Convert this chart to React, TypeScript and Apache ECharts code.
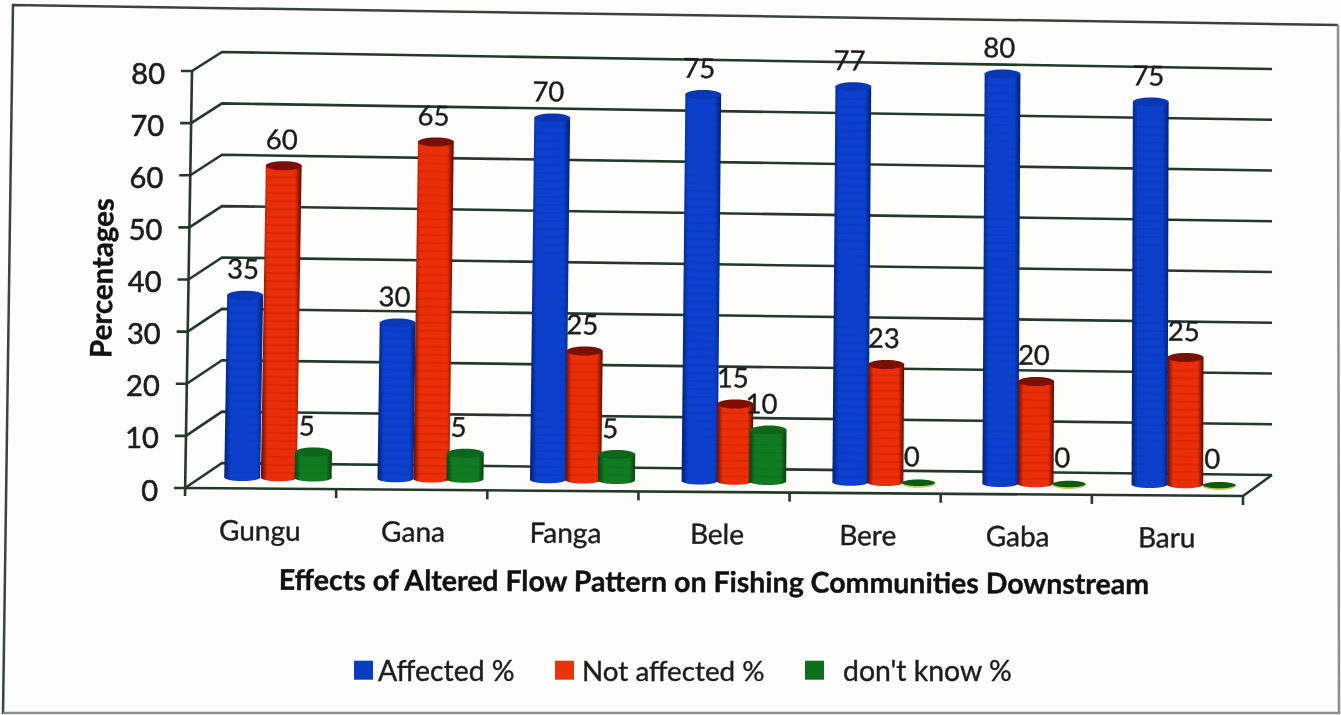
import React, { useEffect, useRef } from "react";
import * as echarts from "echarts";

const categories = ["Gungu", "Gana", "Fanga", "Bele", "Bere", "Gaba", "Baru"];
const affected = [35, 30, 70, 75, 77, 80, 75];
const notAffected = [60, 65, 25, 15, 23, 20, 25];
const dontKnow = [5, 5, 5, 10, 0, 0, 0];
const yTicks = [0, 10, 20, 30, 40, 50, 60, 70, 80];
const seriesNames = ["Affected %", "Not affected %", "don't know %"];
const xTitle = "Effects of Altered Flow Pattern on Fishing Communities Downstream";
const yTitle = "Percentages";

const FONT = "Lato, Carlito, sans-serif";
const INK = "#1a1e1b";
const AXIS = "#24392a";
const L = 185, R = 1243, T = 71, B = 488;
const DEPTH = 11;
const heavy = { stroke: INK, lineWidth: 0.6 };

// The reference is a photographed page: a slight keystone bends the chart plane.
function warp(px: number, py: number): [number, number] {
  const up = B - py;
  const slope = 0.0076 + up * 0.0000221;
  const lean = up * 0.0168 * (1 - ((px - L) / (R - L)) * 0.9);
  return [px + lean, py + (px - L) * slope];
}
// ...and a slight sideways bulge towards the middle of the page.
function bow(px: number, amount: number): number {
  const t = (px - L) / (R - L);
  return px + amount * 4 * t * (1 - t);
}

const palettes = [
  { edge: "#041f70", mid: "#0a40cc", top: "#0a38b4", stripe: "#03195c" },
  { edge: "#5c0a00", mid: "#ec2e08", top: "#7a0f04", stripe: "#7a1200" },
  { edge: "#0a4010", mid: "#0f7a20", top: "#0d661a", stripe: "#083c0e" },
];
const offsets = [-19.5 / 151, 17 / 151, 51.5 / 151];
const halfWidths = [18, 18, 18.5];
const labelShift = [-1.5, -1.5, -7];
const bows = [5, 3.5, 2];

function barRenderer(idx: number) {
  const pal = palettes[idx];
  return (_p: any, api: any) => {
    const cat = api.value(0);
    const v = api.value(1);
    const band = api.size([1, 0])[0];
    const [c, y1] = api.coord([cat, v]);
    const [, y0] = api.coord([cat, 0]);
    const cx = bow(c + band * offsets[idx], bows[idx]);
    const hw = halfWidths[idx];
    const bot = y0 - DEPTH;
    const top = y1 - DEPTH;
    const bl = warp(cx - hw, bot), br = warp(cx + hw, bot);
    const tl = warp(cx - hw, top), tr = warp(cx + hw, top);
    const bc = warp(cx, bot), tc = warp(cx, top);
    if (v === 0) {
      return {
        type: "group",
        children: [
          { type: "ellipse", shape: { cx: bc[0], cy: bc[1] + 1, rx: 17, ry: 4 }, style: { fill: "#c3cc5a" } },
          { type: "ellipse", shape: { cx: bc[0], cy: bc[1], rx: 16.5, ry: 3.2 }, style: { fill: "#0c5a14" } },
        ],
      };
    }
    const fill = new echarts.graphic.LinearGradient(0, 0, 1, 0, [
      { offset: 0, color: pal.edge },
      { offset: 0.16, color: pal.mid },
      { offset: 0.84, color: pal.mid },
      { offset: 1, color: pal.edge },
    ]);
    const stripes: any[] = [];
    for (let y = bot - 5; y > top + 6; y -= 8) {
      const a = warp(cx - hw + 1, y), b = warp(cx + hw - 1, y);
      stripes.push({
        type: "line",
        shape: { x1: a[0], y1: a[1], x2: b[0], y2: b[1] },
        style: { stroke: pal.stripe, lineWidth: 2, opacity: idx === 1 ? 0.16 : 0.06 },
      });
    }
    return {
      type: "group",
      children: [
        { type: "ellipse", shape: { cx: bc[0], cy: bc[1], rx: hw, ry: 3.5 }, style: { fill } },
        { type: "polygon", shape: { points: [bl, br, tr, tl] }, style: { fill } },
        ...stripes,
        { type: "ellipse", shape: { cx: tc[0], cy: tc[1], rx: hw, ry: 4.5 }, style: { fill: pal.top } },
      ],
    };
  };
}

function labelRenderer(_p: any, api: any) {
  const cat = api.value(0);
  const v = api.value(1);
  const idx = api.value(2);
  const band = api.size([1, 0])[0];
  const [c, y1] = api.coord([cat, v]);
  const cx = bow(c + band * offsets[idx], 2.5);
  const p = warp(cx, y1 - DEPTH);
  return {
    type: "text",
    x: p[0] + labelShift[idx],
    y: p[1] - 27,
    rotation: -0.008,
    style: { text: String(v), fill: INK, ...heavy, lineWidth: 0.4, fontSize: 27.5, fontFamily: FONT, align: "center", verticalAlign: "middle" },
  };
}

function frameRenderer(_p: any, api: any) {
  const v = api.value(0);
  const [, py] = api.coord([0, v]);
  const f = (B - py) / (B - T);
  const front = warp(L, py);
  const backL: [number, number] = [222, 463 - 411 * f];
  const backR: [number, number] = [1272, 475 - 406 * f];
  const line = { stroke: AXIS, lineWidth: 2.6, fill: "none" };
  const children: any[] = [
    { type: "polyline", shape: { points: [[front[0] - 11, front[1]], front, backL, backR] }, style: line },
    {
      type: "text",
      x: front[0] - 27,
      y: front[1] + 1,
      style: { text: String(v), fill: INK, ...heavy, fontSize: 29, fontFamily: FONT, align: "right", verticalAlign: "middle" },
    },
  ];
  if (v === 0) {
    const fr = warp(R, B);
    children.push({ type: "polyline", shape: { points: [front, fr, backR] }, style: line });
    const top = warp(L, T);
    children.push({ type: "line", shape: { x1: front[0], y1: front[1] + 8, x2: top[0], y2: top[1] }, style: line });
  }
  return { type: "group", children };
}

function categoryRenderer(_p: any, api: any) {
  const i = api.value(0);
  const band = api.size([1, 0])[0];
  const [c] = api.coord([i, 0]);
  const lower = warp(c + band / 2, B);
  const label = warp(bow(c, 5), B);
  return {
    type: "group",
    children: [
      { type: "line", shape: { x1: lower[0], y1: lower[1], x2: lower[0], y2: lower[1] + 9 }, style: { stroke: AXIS, lineWidth: 2.6 } },
      {
        type: "text",
        x: label[0] - 2,
        y: label[1] + 41,
        rotation: -0.0075,
        style: { text: categories[i], fill: INK, ...heavy, lineWidth: 0.4, fontSize: 28, fontFamily: FONT, align: "center", verticalAlign: "middle" },
      },
    ],
  };
}

// One legend box per series, because the reference's gaps between swatch and text differ.
const legendLefts = [349, 550, 800];
const legendPads = [0, 3, 14];
const legendSizes = [28.4, 27.8, 28.4];

export default function App() {
  const ref = useRef<HTMLDivElement>(null);
  useEffect(() => {
    document.body.style.margin = "0";
    const chart = echarts.init(ref.current!, undefined, { renderer: "svg" });
    const rows = (arr: number[]) => arr.map((v, i) => [i, v]);
    const labelRows = [affected, notAffected, dontKnow].flatMap((arr, s) => arr.map((v, i) => [i, v, s]));
    const xAxis = { type: "category", data: categories, show: false };
    const yAxis = { type: "value", min: 0, max: 80, interval: 10, show: false };
    const edge = { stroke: "#39453b", lineWidth: 2.5, fill: "none" };
    chart.setOption({
      animation: false,
      backgroundColor: "#fdfdfc",
      grid: { left: L, top: T, width: R - L, height: B - T },
      xAxis,
      yAxis,
      legend: seriesNames.map((name, i) => ({
        data: [name],
        left: legendLefts[i],
        top: 651,
        itemWidth: 19,
        itemHeight: 19,
        icon: "rect",
        textStyle: {
          fontSize: legendSizes[i],
          fontFamily: FONT,
          color: INK,
          textBorderColor: INK,
          textBorderWidth: 0.4,
          padding: [0, 0, 0, legendPads[i]],
        },
      })),
      graphic: [
        { type: "polyline", shape: { points: [[3, 714], [13, 5], [1338, 25]] }, style: edge, silent: true },
        { type: "polyline", shape: { points: [[1338, 25], [1339, 713], [3, 713]] }, style: { stroke: "#8a8f8b", lineWidth: 2.5, fill: "none" }, silent: true },
        {
          type: "text", x: 714, y: 581, rotation: -0.0055, silent: true,
          style: { text: xTitle, fill: "#111", stroke: "#111", lineWidth: 0.4, fontSize: 28.5, fontWeight: "bold", fontFamily: FONT, align: "center", verticalAlign: "middle" },
        },
        {
          type: "text", x: 101, y: 278, rotation: Math.PI / 2 - 0.015, silent: true,
          style: { text: yTitle, fill: "#111", stroke: "#111", lineWidth: 0.4, fontSize: 29.5, fontWeight: "bold", fontFamily: FONT, align: "center", verticalAlign: "middle" },
        },
      ],
      series: [
        { type: "custom", name: "frame", z: 1, clip: false, renderItem: frameRenderer, data: yTicks.map((v) => [v]), encode: { y: 0 }, silent: true },
        { type: "custom", name: "cats", z: 1, clip: false, renderItem: categoryRenderer, data: categories.map((_, i) => [i]), encode: { x: 0 }, silent: true },
        { type: "custom", name: seriesNames[0], z: 2, clip: false, itemStyle: { color: "#0a3cc0" }, renderItem: barRenderer(0), data: rows(affected), encode: { x: 0, y: 1 } },
        { type: "custom", name: seriesNames[1], z: 3, clip: false, itemStyle: { color: "#e8330c" }, renderItem: barRenderer(1), data: rows(notAffected), encode: { x: 0, y: 1 } },
        { type: "custom", name: seriesNames[2], z: 4, clip: false, itemStyle: { color: "#0e701c" }, renderItem: barRenderer(2), data: rows(dontKnow), encode: { x: 0, y: 1 } },
        { type: "custom", name: "values", z: 5, clip: false, renderItem: labelRenderer, data: labelRows, encode: { x: 0, y: 1 }, silent: true },
      ],
    });
    return () => chart.dispose();
  }, []);
  return <div ref={ref} style={{ width: 1341, height: 715, filter: "blur(0.6px)" }} />;
}
